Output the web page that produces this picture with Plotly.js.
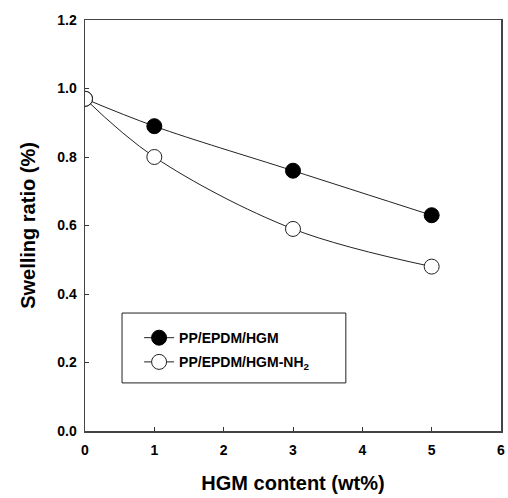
<!DOCTYPE html>
<html>
<head>
<meta charset="utf-8">
<script src="https://cdn.plot.ly/plotly-3.0.1.min.js"></script>
<style>html,body{margin:0;padding:0;background:#fff;}#chart{width:508px;height:498px;}</style>
</head>
<body>
<div id="chart"></div>
<script>
const hgmContent = [0, 1, 3, 5];
const swellingHGM = [0.97, 0.89, 0.76, 0.63];
const swellingHGMNH2 = [0.97, 0.80, 0.59, 0.48];
const seriesNames = ['PP/EPDM/HGM', 'PP/EPDM/HGM-NH<sub>2</sub>'];
const xTickVals = [0, 1, 2, 3, 4, 5, 6];
const yTickVals = [0, 0.2, 0.4, 0.6, 0.8, 1.0, 1.2];

const fnt = 'Arial, "Liberation Sans", sans-serif';
const traces = [
  {
    x: hgmContent, y: swellingHGM, name: seriesNames[0], legendgroup: 'a',
    mode: 'lines+markers', line: {color: '#222', width: 1, shape: 'spline'},
    marker: {symbol: 'circle', size: 15, color: '#000', line: {color: '#000', width: 1}}
  },
  {
    x: hgmContent, y: swellingHGMNH2, name: seriesNames[1], legendgroup: 'b',
    mode: 'lines+markers', line: {color: '#222', width: 1, shape: 'spline'},
    marker: {symbol: 'circle', size: 15, color: '#fff', line: {color: '#222', width: 1}}
  }
];
const layout = {
  width: 508, height: 498,
  margin: {l: 85, r: 7, t: 20, b: 67},
  paper_bgcolor: '#fff', plot_bgcolor: '#fff',
  showlegend: true,
  font: {family: fnt, color: '#000'},
  xaxis: {
    range: [0, 6], tickvals: xTickVals, ticks: 'inside', ticklen: 4, tickcolor: '#333',
    showline: true, linecolor: '#444', linewidth: 1.5, mirror: true, showgrid: false, zeroline: false,
    tickfont: {size: 14, family: fnt, weight: 'bold'}, ticklabelstandoff: 6,
    title: {text: '<b>HGM content (wt%)</b>', font: {size: 20, family: fnt}, standoff: 18}
  },
  yaxis: {
    range: [0, 1.2], tickvals: yTickVals, tickformat: '.1f', ticks: 'inside', ticklen: 4, tickcolor: '#333',
    showline: true, linecolor: '#444', linewidth: 1.5, mirror: true, showgrid: false, zeroline: false,
    tickfont: {size: 14, family: fnt, weight: 'bold'}, ticklabelstandoff: 4,
    title: {text: '<b>Swelling ratio (%)</b>', font: {size: 20, family: fnt}, standoff: 16}
  },
  legend: {
    x: 0.13, y: 0.265, xanchor: 'left', yanchor: 'top',
    bgcolor: 'rgba(0,0,0,0)', borderwidth: 0,
    font: {size: 14, family: fnt, weight: 'bold'},
    traceorder: 'grouped', tracegroupgap: 3
  },
  shapes: [{
    type: 'rect', xref: 'paper', yref: 'paper',
    x0: 0.089, x1: 0.627, y0: 0.117, y1: 0.287,
    line: {color: '#222', width: 1}
  }]
};
Plotly.newPlot('chart', traces, layout, {staticPlot: true});
</script>
</body>
</html>
